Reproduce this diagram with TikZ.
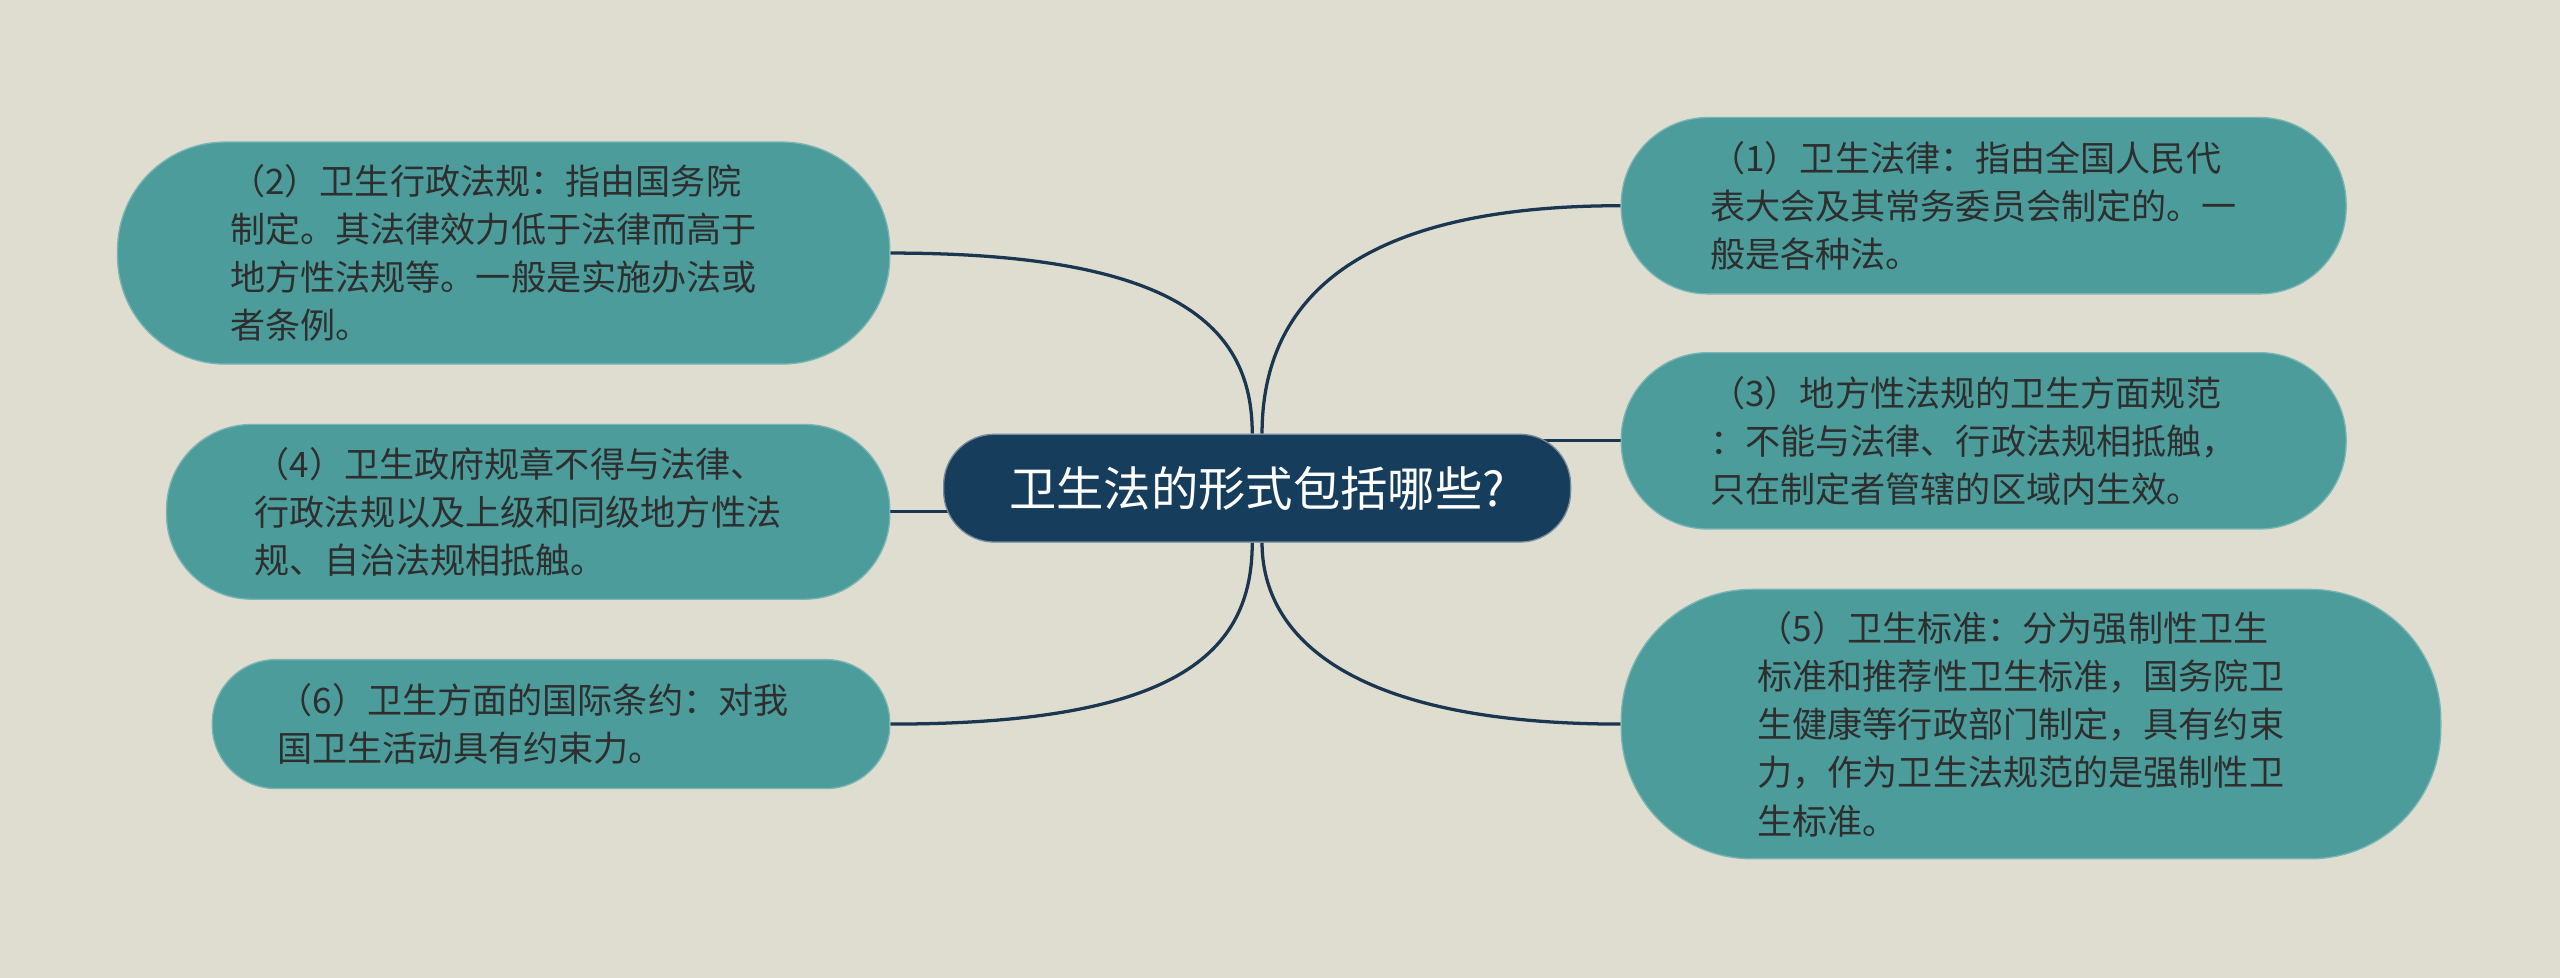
\documentclass[tikz,border=0pt]{standalone}
\usepackage{fontspec}
\setmainfont{Noto Sans CJK SC}
\usetikzlibrary{backgrounds}
\definecolor{bgc}{HTML}{DEDDCF}
\definecolor{tealc}{HTML}{4B9C9B}
\definecolor{navyc}{HTML}{173D5C}
\definecolor{linec}{HTML}{1B3650}
\definecolor{txtc}{HTML}{2E2E2E}
\begin{document}
\begin{tikzpicture}[x=1pt,y=-1pt,
  leaf/.style={fill=tealc, draw=tealc!75!white, line width=0.8pt, inner sep=0pt,
    text width=335pt, align=left, text=txtc, font=\fontsize{21.5pt}{29.5pt}\selectfont},
  hub/.style={fill=navyc, draw=navyc!60!white, line width=0.8pt, inner sep=0pt,
    text=white, font=\fontsize{29pt}{32pt}\selectfont,
    minimum width=384, minimum height=66, rounded corners=31},
  conn/.style={draw=linec, line width=2pt}]
\useasboundingbox (0,0) rectangle (1568,599);

\node[hub] (c) at (770,299) {卫生法的形式包括哪些?};

\node[leaf, minimum width=473, minimum height=136, rounded corners=66] (b2) at (308.5,155)
  {（2）卫生行政法规：指由国务院\\制定。其法律效力低于法律而高于\\地方性法规等。一般是实施办法或\\者条例。};
\node[leaf, minimum width=443, minimum height=107, rounded corners=52] (b4) at (323.5,313.5)
  {（4）卫生政府规章不得与法律、\\行政法规以及上级和同级地方性法\\规、自治法规相抵触。};
\node[leaf, minimum width=415, minimum height=79, rounded corners=39] (b6) at (337.5,443.5)
  {（6）卫生方面的国际条约：对我\\国卫生活动具有约束力。};

\node[leaf, minimum width=444, minimum height=108, rounded corners=53] (b1) at (1215,126)
  {（1）卫生法律：指由全国人民代\\表大会及其常务委员会制定的。一\\般是各种法。};
\node[leaf, minimum width=444, minimum height=108, rounded corners=53] (b3) at (1215,270)
  {（3）地方性法规的卫生方面规范\\：不能与法律、行政法规相抵触，\\只在制定者管辖的区域内生效。};
\node[leaf, minimum width=502, minimum height=165, rounded corners=80] (b5) at (1244,443.5)
  {（5）卫生标准：分为强制性卫生\\标准和推荐性卫生标准，国务院卫\\生健康等行政部门制定，具有约束\\力，作为卫生法规范的是强制性卫\\生标准。};

\begin{scope}[on background layer]
\fill[bgc] (0,0) rectangle (1568,599);
\draw[conn] (b2.east) .. controls +(175,0) and +(0,-66) .. ([xshift=-3pt]c.north);
\draw[conn] (b1.west) .. controls +(-170,0) and +(0,-76) .. ([xshift=3pt]c.north);
\draw[conn] (b6.east) .. controls +(175,0) and +(0,68) .. ([xshift=-3pt]c.south);
\draw[conn] (b5.west) .. controls +(-165,0) and +(0,58) .. ([xshift=3pt]c.south);
\draw[conn] (b3.west) -- (b3.west -| c.center);
\draw[conn] (b4.east) -- (b4.east -| c.center);
\end{scope}
\end{tikzpicture}
\end{document}
